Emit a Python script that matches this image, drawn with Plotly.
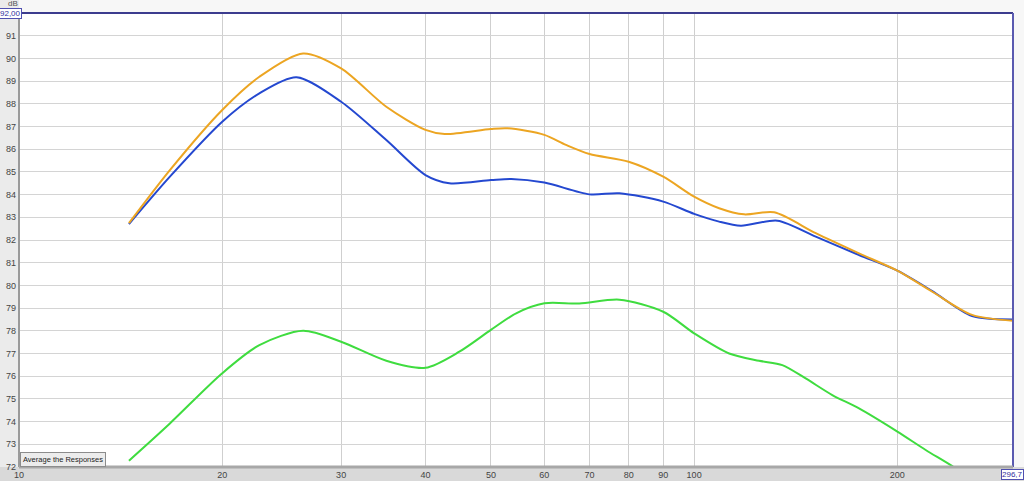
import plotly.graph_objects as go
import math

# ---- data ----
orange_freq = [14.55, 16.73, 20, 22.7, 26.35, 30, 35, 40, 42.7, 50, 53, 60, 64.6, 70, 80, 90, 100, 108.9, 118.6, 131.4, 151.4, 175.5, 200, 225.3, 258.1, 296.7]
orange_db = [82.74, 85.08, 87.73, 89.19, 90.22, 89.56, 87.87, 86.85, 86.67, 86.89, 86.92, 86.63, 86.19, 85.79, 85.45, 84.79, 83.91, 83.40, 83.13, 83.22, 82.30, 81.41, 80.65, 79.72, 78.70, 78.44]

blue_freq = [14.55, 16.73, 20, 22.7, 25.76, 30, 35, 40, 43.4, 50, 53.6, 60, 70, 77.5, 90, 100, 108.9, 117.3, 132.9, 151.4, 175.5, 200, 225.3, 258.1, 296.7]
blue_db = [82.70, 84.79, 87.21, 88.46, 89.17, 88.09, 86.40, 84.86, 84.50, 84.64, 84.69, 84.53, 84.01, 84.06, 83.69, 83.15, 82.81, 82.63, 82.85, 82.15, 81.34, 80.65, 79.75, 78.65, 78.50]

green_freq = [14.55, 16.73, 20, 22.7, 26.35, 30, 35, 40, 44.9, 50, 54.5, 60, 67.6, 77.5, 90, 100, 112.7, 124.8, 135.1, 146.3, 160.2, 175.5, 200, 220.3, 242.6, 270]
green_db = [72.28, 73.92, 76.13, 77.37, 78.00, 77.52, 76.68, 76.37, 77.08, 78.04, 78.77, 79.21, 79.20, 79.37, 78.84, 77.89, 77.00, 76.68, 76.49, 75.90, 75.17, 74.58, 73.56, 72.75, 71.99, 71.00]

x_ticks = [10, 20, 30, 40, 50, 60, 70, 80, 90, 100, 200]
y_ticks = list(range(72, 92))

W, H = 1024, 481
ML, MR, MT, MB = 19, 11, 13, 14
PW, PH = W - ML - MR, H - MT - MB

fig = go.Figure()
for fx, fy, col in [(green_freq, green_db, "#3fdc3f"),
                    (blue_freq, blue_db, "#2448d0"),
                    (orange_freq, orange_db, "#eca522")]:
    fig.add_trace(go.Scatter(x=fx, y=fy, mode="lines",
                             line=dict(color=col, width=2, shape="spline", smoothing=0.8),
                             hoverinfo="skip", showlegend=False))

tick_font = dict(family="Liberation Sans, Arial, sans-serif", size=9, color="#444444")

fig.update_layout(
    width=W, height=H,
    margin=dict(l=ML, r=MR, t=MT, b=MB, pad=0, autoexpand=False),
    paper_bgcolor="#f7f7f7",
    plot_bgcolor="#ffffff",
    showlegend=False,
    xaxis=dict(type="log", range=[1, math.log10(296.7)],
               tickvals=x_ticks, ticktext=[str(v) for v in x_ticks],
               showgrid=True, gridcolor="#cfcfcf", gridwidth=1,
               zeroline=False, showline=False, ticks="", automargin=False,
               tickfont=tick_font, ticklabelstandoff=1, fixedrange=True),
    yaxis=dict(range=[72, 92],
               tickvals=y_ticks, ticktext=[str(v) for v in y_ticks],
               showgrid=True, gridcolor="#d4d4d4", gridwidth=1,
               zeroline=False, showline=False, ticks="", automargin=False,
               tickfont=tick_font, ticklabelstandoff=2, fixedrange=True),
)

px = lambda p: (p - ML) / PW
py = lambda p: (H - MB - p) / PH

shapes = [
    # bottom strip
    dict(type="rect", xref="paper", yref="paper", x0=px(0), x1=px(W), y0=py(H), y1=py(467),
         fillcolor="#d9d9d9", line=dict(width=0), layer="below"),
    # left strip
    dict(type="rect", xref="paper", yref="paper", x0=px(0), x1=px(19), y0=py(467), y1=py(0),
         fillcolor="#ebebeb", line=dict(width=0), layer="below"),
    # borders
    dict(type="line", xref="paper", yref="paper", x0=0, x1=1, y0=1, y1=1,
         line=dict(color="#3c3c8e", width=2)),
    dict(type="line", xref="paper", yref="paper", x0=1, x1=1, y0=0, y1=1,
         line=dict(color="#5a5ab0", width=2)),
    dict(type="line", xref="paper", yref="paper", x0=0, x1=0, y0=0, y1=1,
         line=dict(color="#9a9a9a", width=2)),
    dict(type="line", xref="paper", yref="paper", x0=0, x1=1, y0=0, y1=0,
         line=dict(color="#a8a8a8", width=3)),
]
fig.update_layout(shapes=shapes)

small = dict(family="Liberation Sans, Arial, sans-serif", size=8)
common = dict(xref="paper", yref="paper", showarrow=False, xanchor="center", yanchor="middle")
fig.add_annotation(text="dB", x=px(13), y=py(4), font=dict(small, color="#555555"), **common)
fig.add_annotation(text="92,00", x=px(10), y=py(13), font=dict(small, color="#3030a0"),
                   bgcolor="#ffffff", bordercolor="#5050b0", borderwidth=1, borderpad=0, **common)
fig.add_annotation(text="296,7", x=px(1012), y=py(474.5), font=dict(small, color="#3030a0"),
                   bgcolor="#ffffff", bordercolor="#5050b0", borderwidth=1, borderpad=0, **common)
fig.add_annotation(text="Average the Responses", x=px(62.5), y=py(459.7),
                   font=dict(family="Liberation Sans, Arial, sans-serif", size=7.5, color="#222222"),
                   bgcolor="#ececec", bordercolor="#8c8c8c", borderwidth=1, borderpad=2, **common)

fig.write_html("out.html", config={"displayModeBar": False, "staticPlot": True},
               post_script="document.body.style.margin='0';document.body.style.overflow='hidden';")
